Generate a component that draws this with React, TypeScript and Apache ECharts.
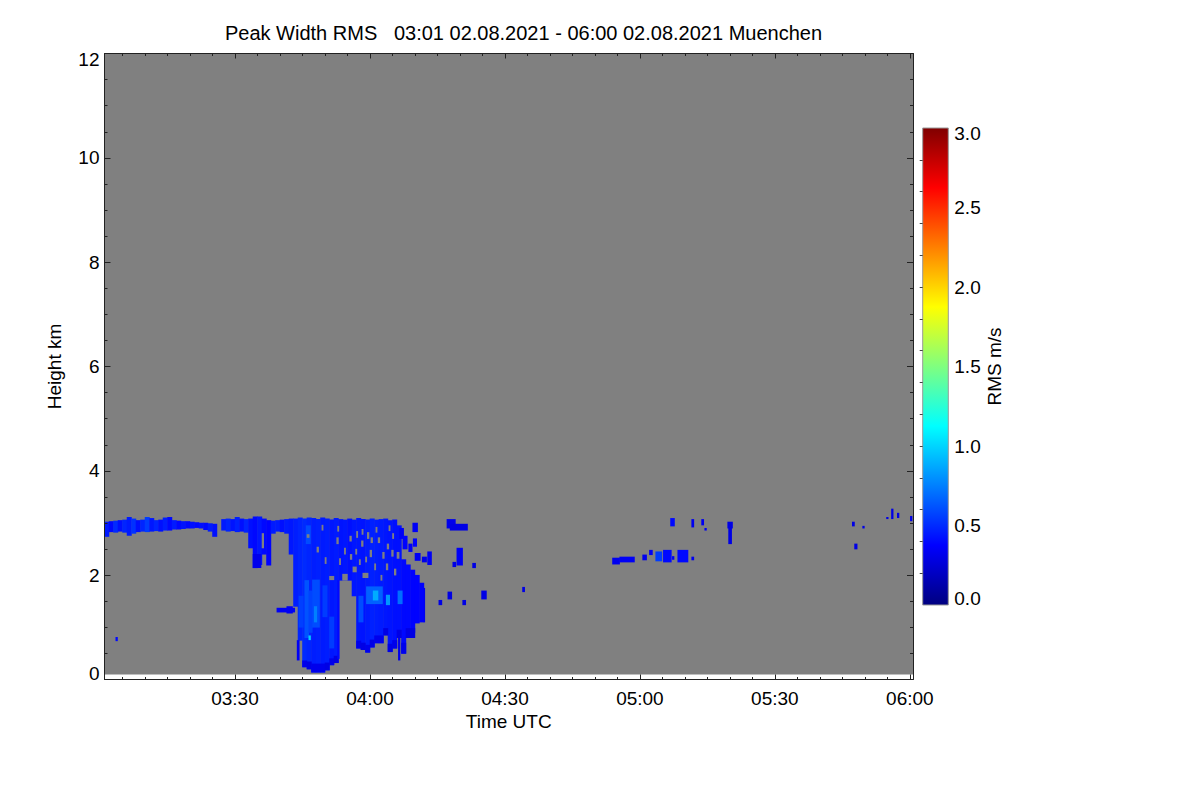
import React, { useEffect, useRef } from 'react';
import * as echarts from 'echarts';

// ---------- texts ----------
const TITLE = 'Peak Width RMS   03:01 02.08.2021 - 06:00 02.08.2021 Muenchen';
const X_NAME = 'Time UTC';
const Y_NAME = 'Height km';
const CBAR_NAME = 'RMS m/s';

// ---------- axes (time in minutes after 03:00 UTC, height in km) ----------
const timeRange = [1, 180.7];
const timeMajorTicks = [30, 60, 90, 120, 150, 180];
const timeMajorLabels = ['03:30', '04:00', '04:30', '05:00', '05:30', '06:00'];
const timeMinorTicks = [5, 10, 15, 20, 25, 35, 40, 45, 50, 55, 65, 70, 75, 80, 85, 95, 100, 105, 110, 115, 125, 130, 135, 140, 145, 155, 160, 165, 170, 175];
const heightRange = [0, 12];
const heightTicks = [0, 2, 4, 6, 8, 10, 12];
const validHeight = [0.1, 12];
const rmsRange = [0, 3];
const rmsLabels = [0, 0.5, 1, 1.5, 2, 2.5, 3];
const rmsMinorTicks = [0.2, 0.4, 0.6, 0.8, 1.0, 1.2, 1.4, 1.6, 1.8, 2.0, 2.2, 2.4, 2.6, 2.8];

const MISSING = -1;

// ---------- data ----------
// cloud layer near 3 km: [minute, bottom km, top km, RMS m/s]
const cloudBand = [
  [1, 2.74, 3.02, 0.45], [2, 2.83, 3.03, 0.40], [3, 2.82, 3.04, 0.50], [4, 2.84, 3.05, 0.42],
  [5, 2.82, 3.06, 0.48], [6, 2.76, 3.11, 0.45], [7, 2.80, 3.08, 0.52], [8, 2.83, 3.05, 0.42],
  [9, 2.84, 3.06, 0.48], [10, 2.83, 3.11, 0.55], [11, 2.84, 3.09, 0.44], [12, 2.85, 3.05, 0.48],
  [13, 2.84, 3.06, 0.42], [14, 2.86, 3.10, 0.46], [15, 2.86, 3.11, 0.40], [16, 2.88, 3.05, 0.45],
  [17, 2.88, 3.04, 0.40], [18, 2.89, 3.03, 0.43], [19, 2.90, 3.03, 0.40], [20, 2.90, 3.02, 0.42],
  [21, 2.91, 3.01, 0.40], [22, 2.90, 3.00, 0.42], [23, 2.87, 3.00, 0.40], [24, 2.84, 2.99, 0.45],
  [25, 2.74, 2.98, 0.42], [27, 2.86, 3.07, 0.45], [28, 2.84, 3.08, 0.48], [29, 2.85, 3.07, 0.43],
  [30, 2.83, 3.11, 0.47], [31, 2.84, 3.08, 0.42], [32, 2.82, 3.07, 0.48], [33, 2.52, 3.08, 0.42],
  [34, 2.14, 3.12, 0.40], [35, 2.20, 3.12, 0.44], [36, 2.40, 3.08, 0.40], [37, 2.19, 3.05, 0.38],
  [38, 2.80, 3.04, 0.45], [39, 2.84, 3.05, 0.45], [40, 2.83, 3.06, 0.42], [41, 2.80, 3.07, 0.45],
  [42, 2.40, 3.08, 0.44],
];

// precipitation core: [minute, bottom km, top km, RMS m/s]
const convectionCore = [
  [43, 1.40, 3.08, 0.46], [44, 0.75, 3.10, 0.48], [45, 0.24, 3.08, 0.50], [46, 0.20, 3.10, 0.48],
  [47, 0.14, 3.09, 0.46], [48, 0.14, 3.07, 0.47], [49, 0.14, 3.10, 0.45], [50, 0.18, 3.08, 0.46],
  [51, 0.28, 3.06, 0.44], [52, 0.32, 3.09, 0.45], [53, 1.90, 3.07, 0.43], [54, 1.90, 3.06, 0.44],
  [55, 1.90, 3.08, 0.42], [56, 1.60, 3.06, 0.44], [57, 0.60, 3.09, 0.44], [58, 0.57, 3.07, 0.43],
  [59, 0.52, 3.06, 0.45], [60, 0.62, 3.08, 0.47], [61, 0.70, 3.06, 0.46], [62, 0.70, 3.07, 0.45],
  [63, 0.85, 3.08, 0.44], [64, 0.53, 3.05, 0.43], [65, 0.60, 3.06, 0.42], [66, 0.80, 2.95, 0.42],
  [67, 0.50, 2.30, 0.40], [68, 0.80, 2.20, 0.40], [69, 0.90, 2.10, 0.38], [70, 1.08, 2.00, 0.38],
  [71, 1.10, 1.85, 0.37],
];

// patches of different RMS inside the core: [t0, t1, h0, h1, RMS]
const corePatches = [
  [45, 46, 0.24, 0.36, 0.32], [46, 47, 0.20, 0.34, 0.30], [47, 50, 0.14, 0.30, 0.32], [50, 51, 0.18, 0.32, 0.30],
  [51, 52, 0.28, 0.40, 0.32], [52, 53, 0.32, 0.45, 0.30],
  [57, 58, 0.60, 0.74, 0.32], [58, 59, 0.57, 0.70, 0.30], [59, 60, 0.52, 0.66, 0.32], [60, 61, 0.62, 0.76, 0.30],
  [61, 63, 0.70, 0.84, 0.32], [63, 64, 0.85, 0.98, 0.30], [64, 65, 0.53, 0.68, 0.30], [65, 66, 0.60, 0.75, 0.32],
  [66, 67, 0.80, 0.95, 0.30], [67, 68, 0.50, 0.70, 0.32], [68, 70, 0.80, 0.98, 0.30],
  [34.0, 35.8, 2.14, 2.40, 0.32],
  [45.5, 46.4, 0.80, 1.90, 0.62], [46.4, 47.2, 0.90, 1.70, 0.57], [47.2, 48.8, 1.00, 1.91, 0.60],
  [46.4, 46.8, 0.76, 0.84, 1.00], [44.2, 45.2, 1.00, 1.60, 0.56],
  [49.5, 50.5, 1.20, 1.80, 0.55], [59.2, 62.8, 1.45, 1.78, 0.66], [60.7, 61.8, 1.52, 1.70, 0.88],
  [63.6, 64.4, 1.43, 1.62, 0.82], [66.2, 67.2, 1.45, 1.70, 0.70], [57.5, 58.5, 1.10, 1.60, 0.60],
  [51.0, 52.0, 0.60, 1.20, 0.55], [45.8, 46.8, 2.60, 2.95, 0.60], [47.6, 48.2, 1.10, 1.40, 0.75],
];

// gaps without valid signal inside the core: [t0, t1, h0, h1]
const dataGaps = [
  [46.0, 46.5, 2.72, 2.78], [48.2, 48.6, 2.44, 2.54], [52.6, 53.0, 2.60, 2.72], [55.5, 55.9, 2.65, 2.75],
  [56.2, 57.0, 2.06, 2.16], [58.1, 58.5, 2.55, 2.66], [60.0, 60.4, 2.35, 2.48], [61.8, 62.2, 2.62, 2.72],
  [63.6, 64.0, 2.10, 2.22], [64.8, 65.2, 2.36, 2.48], [51.0, 52.0, 1.91, 1.98], [53.9, 55.0, 1.90, 2.02],
  [58.4, 59.6, 1.95, 2.04], [50.0, 50.3, 2.22, 2.34], [57.0, 57.3, 2.72, 2.84], [62.8, 63.2, 2.32, 2.44],
  [66.0, 66.5, 2.32, 2.44], [49.3, 49.6, 2.86, 2.96], [36.0, 36.4, 2.52, 2.80], [54.3, 54.6, 2.40, 2.52],
  [59.4, 59.8, 2.70, 2.82], [61.0, 61.3, 2.10, 2.22], [56.8, 57.1, 2.40, 2.50], [65.4, 65.8, 2.00, 2.12],
  [53.2, 53.5, 2.20, 2.32], [62.4, 62.7, 1.90, 2.00], [60.2, 60.6, 2.62, 2.72], [52.8, 53.1, 2.84, 2.94],
  [55.6, 56.0, 2.30, 2.40], [58.2, 58.5, 2.78, 2.88], [63.8, 64.2, 2.50, 2.60], [65.0, 65.3, 2.70, 2.80],
  [59.0, 59.3, 2.25, 2.35], [61.3, 61.6, 2.82, 2.92], [64.2, 64.5, 2.85, 2.95], [57.6, 57.9, 2.20, 2.30],
];

// isolated echoes: [t0, t1, h0, h1, RMS]
const isolatedEchoes = [
  [3.5, 3.9, 0.74, 0.81, 0.40],
  [39.3, 43.3, 1.29, 1.37, 0.35], [41.5, 42.8, 1.27, 1.40, 0.35], [43.8, 44.3, 0.37, 0.75, 0.35],
  [66.3, 66.7, 0.37, 0.80, 0.32], [52.8, 53.2, 0.40, 1.90, 0.40],
  [66.6, 67.5, 2.70, 2.90, 0.35], [69.5, 70.6, 2.83, 3.00, 0.35], [67.3, 68.3, 2.50, 2.75, 0.38],
  [68.6, 69.4, 2.45, 2.60, 0.35], [69.6, 70.4, 2.55, 2.70, 0.38], [70.0, 71.2, 2.28, 2.42, 0.35],
  [71.6, 72.6, 2.25, 2.35, 0.32], [72.8, 73.7, 2.20, 2.45, 0.35], [72.0, 72.2, 1.10, 1.75, 0.33],
  [77.1, 79.0, 2.90, 3.07, 0.32], [77.8, 81.7, 2.86, 2.98, 0.30],
  [79.3, 80.6, 2.19, 2.52, 0.35], [78.4, 79.1, 2.16, 2.25, 0.30], [82.8, 83.5, 2.14, 2.23, 0.30],
  [75.3, 76.0, 1.43, 1.52, 0.30], [77.3, 78.2, 1.54, 1.68, 0.30], [80.6, 81.3, 1.43, 1.52, 0.30],
  [84.8, 85.9, 1.54, 1.70, 0.30], [93.9, 94.4, 1.68, 1.77, 0.30],
  [113.9, 115.5, 2.21, 2.33, 0.33], [115.5, 118.8, 2.25, 2.35, 0.35],
  [120.6, 121.5, 2.29, 2.39, 0.33], [122.1, 122.8, 2.39, 2.48, 0.35],
  [123.5, 124.9, 2.27, 2.45, 0.55], [125.2, 127.0, 2.25, 2.48, 0.40], [127.2, 127.6, 2.30, 2.36, 0.35],
  [128.4, 130.7, 2.25, 2.48, 0.40], [131.5, 132.0, 2.29, 2.35, 0.33],
  [126.8, 127.7, 2.94, 3.09, 0.40], [131.5, 132.0, 2.92, 3.07, 0.33], [133.7, 134.2, 2.96, 3.07, 0.33],
  [134.4, 134.8, 2.86, 2.90, 0.33],
  [139.5, 140.6, 2.90, 3.02, 0.30], [139.7, 140.4, 2.60, 2.90, 0.30],
  [167.2, 167.7, 2.94, 3.02, 0.30], [169.5, 169.9, 2.90, 2.94, 0.30], [167.7, 168.3, 2.50, 2.60, 0.30],
  [174.8, 175.2, 3.08, 3.11, 0.30], [175.9, 176.3, 3.08, 3.27, 0.30], [177.2, 177.6, 3.10, 3.19, 0.30],
  [180.1, 180.5, 3.04, 3.13, 0.30],
];

// ---------- helpers ----------
function clamp01(x: number) { return Math.max(0, Math.min(1, x)); }
function jet(v: number) {
  if (v == null || isNaN(v) || v < 0) return '#808080';
  const f = clamp01(v / rmsRange[1]);
  const r = clamp01(1.5 - Math.abs(4 * f - 3));
  const g = clamp01(1.5 - Math.abs(4 * f - 2));
  const b = clamp01(1.5 - Math.abs(4 * f - 1));
  return `rgb(${Math.round(r * 255)},${Math.round(g * 255)},${Math.round(b * 255)})`;
}
const jetStops = [0, 0.125, 0.375, 0.625, 0.875, 1].map((o) => ({ offset: o, color: jet(o * rmsRange[1]) }));

function pad2(n: number) { return n < 10 ? '0' + n : String(n); }

const FONT = 'Liberation Sans, Arial, Helvetica, sans-serif';
const FS = 19;
const AXIS_COLOR = '#222';

const cells = [
  [timeRange[0], timeRange[1], validHeight[0], validHeight[1], MISSING],
  ...cloudBand.map(([t, b, h, v]) => [t, t + 1, b, h, v]),
  ...convectionCore.map(([t, b, h, v]) => [t, t + 1, b, h, v]),
  ...corePatches,
  ...dataGaps.map(([a, b, c, d]) => [a, b, c, d, MISSING]),
  ...isolatedEchoes,
];

function renderCell(params: any, api: any) {
  const t0 = api.value(0), t1 = api.value(1), h0 = api.value(2), h1 = api.value(3), v = api.value(4);
  const p0 = api.coord([t0, h1]);
  const p1 = api.coord([t1, h0]);
  const cs = params.coordSys;
  const shape = echarts.graphic.clipRectByRect(
    { x: p0[0] - 0.25, y: p0[1] - 0.25, width: p1[0] - p0[0] + 0.5, height: p1[1] - p0[1] + 0.5 },
    { x: cs.x, y: cs.y, width: cs.width, height: cs.height }
  );
  if (!shape) return null;
  return { type: 'rect', shape, style: { fill: jet(v), stroke: null } };
}

function renderColorbar(params: any, api: any) {
  const p0 = api.coord([api.value(0), api.value(3)]);
  const p1 = api.coord([api.value(1), api.value(2)]);
  return {
    type: 'rect',
    shape: { x: p0[0], y: p0[1], width: p1[0] - p0[0], height: p1[1] - p0[1] },
    style: {
      fill: new echarts.graphic.LinearGradient(0, 1, 0, 0, jetStops),
      stroke: '#999',
      lineWidth: 1,
    },
  };
}

const labelStyle = { fontFamily: FONT, fontSize: FS, color: '#000' };

function xAxisDef(position: 'top' | 'bottom', major: boolean, showLabels: boolean) {
  return {
    type: 'value', gridIndex: 0, position, min: timeRange[0], max: timeRange[1], z: 10,
    axisLine: { show: major, lineStyle: { color: AXIS_COLOR, width: 1 } },
    axisTick: {
      show: true, inside: true, length: major ? 5 : 2.5,
      customValues: major ? timeMajorTicks : timeMinorTicks,
      lineStyle: { color: AXIS_COLOR, width: 1 },
    },
    axisLabel: {
      show: showLabels, ...labelStyle, margin: 9,
      customValues: timeMajorTicks,
      formatter: (v: number) => {
        const i = timeMajorTicks.indexOf(v);
        if (i >= 0) return timeMajorLabels[i];
        return pad2(3 + Math.floor(v / 60)) + ':' + pad2(Math.round(v % 60));
      },
    },
    splitLine: { show: false },
    name: showLabels ? X_NAME : '',
    nameLocation: 'middle', nameGap: 29,
    nameTextStyle: labelStyle,
  };
}

function yAxisDef(position: 'left' | 'right', showLabels: boolean) {
  return {
    type: 'value', gridIndex: 0, position, min: heightRange[0], max: heightRange[1], interval: 2, z: 10,
    axisLine: { show: true, lineStyle: { color: AXIS_COLOR, width: 1 } },
    axisTick: { show: true, inside: true, length: 6, lineStyle: { color: AXIS_COLOR, width: 1 } },
    minorTick: { show: true, splitNumber: 4, length: 3, lineStyle: { color: AXIS_COLOR, width: 1 } },
    axisLabel: {
      show: showLabels, ...labelStyle, margin: 5,
      formatter: (v: number) => {
        const s = String(heightTicks[heightTicks.indexOf(v)] ?? v);
        if (v === heightRange[0]) return '{lo|' + s + '}';
        if (v === heightRange[1]) return '{hi|' + s + '}';
        return s;
      },
      rich: {
        lo: { ...labelStyle, padding: [0, 0, 12, 0] },
        hi: { ...labelStyle, padding: [11, 0, 0, 0] },
      },
    },
    splitLine: { show: false },
    minorSplitLine: { show: false },
    name: showLabels ? Y_NAME : '',
    nameLocation: 'middle', nameGap: 41, nameRotate: 90,
    nameTextStyle: labelStyle,
  };
}

const option: any = {
  animation: false,
  backgroundColor: '#ffffff',
  textStyle: { fontFamily: FONT },
  grid: [
    { left: 104.5, top: 53.5, width: 808.5, height: 626, containLabel: false },
    { left: 922.7, top: 128, width: 25.6, height: 477, containLabel: false },
  ],
  graphic: [
    {
      type: 'text', x: 523.5, y: 33, z: 20,
      style: { text: TITLE, fontFamily: FONT, fontSize: 20, fill: '#000', align: 'center', verticalAlign: 'middle' },
    },
  ],
  xAxis: [
    xAxisDef('bottom', true, true),
    xAxisDef('bottom', false, false),
    xAxisDef('top', true, false),
    xAxisDef('top', false, false),
    { type: 'value', gridIndex: 1, min: 0, max: 1, show: false },
  ],
  yAxis: [
    yAxisDef('left', true),
    yAxisDef('right', false),
    {
      type: 'value', gridIndex: 1, position: 'right', min: rmsRange[0], max: rmsRange[1], z: 10,
      axisLine: { show: false },
      axisTick: { show: true, inside: true, length: 3, customValues: rmsMinorTicks, lineStyle: { color: '#444', width: 1 } },
      axisLabel: {
        show: true, ...labelStyle, margin: 6, customValues: rmsLabels,
        formatter: (v: number) => {
          const s = v.toFixed(1);
          if (v === rmsRange[0]) return '{lo|' + s + '}';
          if (v === rmsRange[1]) return '{hi|' + s + '}';
          return s;
        },
        rich: {
          lo: { ...labelStyle, padding: [0, 0, 14, 0] },
          hi: { ...labelStyle, padding: [10, 0, 0, 0] },
        },
      },
      splitLine: { show: false },
      name: CBAR_NAME, nameLocation: 'middle', nameGap: 28, nameRotate: 90,
      nameTextStyle: labelStyle,
    },
  ],
  series: [
    {
      type: 'custom', name: 'rms', xAxisIndex: 0, yAxisIndex: 0,
      renderItem: renderCell,
      encode: { x: [0, 1], y: [2, 3] },
      data: cells,
      silent: true,
      z: 2,
    },
    {
      type: 'custom', name: 'colorbar', xAxisIndex: 4, yAxisIndex: 2,
      renderItem: renderColorbar,
      encode: { x: [0, 1], y: [2, 3] },
      data: [[0, 1, rmsRange[0], rmsRange[1]]],
      silent: true,
      z: 2,
    },
  ],
};

export default function App() {
  const ref = useRef<HTMLDivElement>(null);
  useEffect(() => {
    if (!ref.current) return;
    const chart = echarts.init(ref.current, null, { renderer: 'svg' });
    chart.setOption(option);
    return () => chart.dispose();
  }, []);
  return (
    <div
      ref={ref}
      style={{ position: 'fixed', left: 0, top: 0, width: 1200, height: 800, background: '#fff' }}
    />
  );
}
